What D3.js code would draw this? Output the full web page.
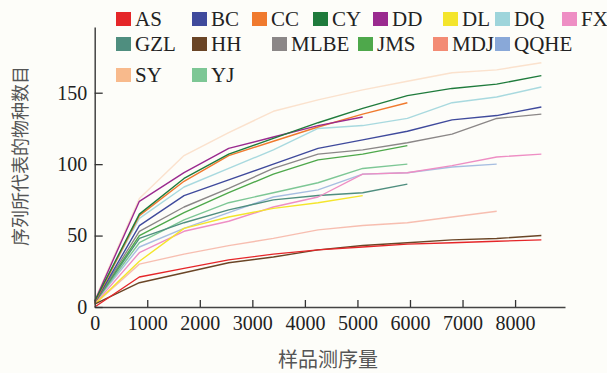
<!DOCTYPE html>
<html>
<head>
<meta charset="utf-8">
<script src="https://cdn.jsdelivr.net/npm/d3@7/dist/d3.min.js"></script>
<style>
  html, body { margin: 0; padding: 0; background: #fdfdf9; }
  svg { display: block; }
</style>
</head>
<body>
<svg id="chart" width="607" height="373"></svg>
<script>
// Sequencing depth at which species counts were sampled
const depths = [0, 850, 1700, 2550, 3400, 4250, 5100, 5950, 6800, 7650, 8500];

// Site names (legend order)
const sites = ["AS", "BC", "CC", "CY", "DD", "DL", "DQ", "FX",
               "GZL", "HH", "MLBE", "JMS", "MDJ", "QQHE", "SY", "YJ"];

// Species counts per site, one value per depth (curves stop at each sample's depth)
const AS   = [0, 21, 27, 33, 37, 40, 42, 44, 45, 46, 47];
const BC   = [3, 57, 78, 89, 100, 111, 117, 123, 131, 134, 140];
const CC   = [3, 64, 88, 106, 116, 126, 135, 143];
const CY   = [4, 65, 90, 107, 118, 129, 139, 148, 153, 156, 162];
const DD   = [4, 74, 94, 111, 119, 127, 133];
const DL   = [2, 32, 55, 63, 69, 73, 78];
const DQ   = [4, 62, 84, 97, 110, 125, 127, 132, 143, 147, 154];
const FX   = [2, 38, 53, 60, 70, 77, 93, 94, 99, 105, 107];
const GZL  = [3, 48, 59, 68, 75, 78, 80, 86];
const HH   = [2, 17, 24, 31, 35, 40, 43, 45, 47, 48, 50];
const MLBE = [3, 53, 70, 83, 97, 107, 110, 115, 121, 132, 135];
const JMS  = [3, 50, 66, 80, 93, 103, 107, 113];
const MDJ  = [2, 30, 37, 43, 48, 54, 57, 59, 63, 67];
const QQHE = [3, 42, 55, 66, 77, 82, 93, 94, 98, 100];
const SY   = [5, 76, 106, 122, 137, 145, 152, 158, 164, 166, 171];
const YJ   = [3, 45, 61, 73, 80, 87, 97, 100];

const xTicks = [0, 1000, 2000, 3000, 4000, 5000, 6000, 7000, 8000];
const yTicks = [0, 50, 100, 150];

const xTitle = "样品测序量";
const yTitle = "序列所代表的物种数目";

// Styling
const serif = "'Liberation Serif', 'Times New Roman', Times, serif";
const cjk = "'Noto Sans CJK SC', sans-serif";
const colors = {
  AS: "#e52629", BC: "#3f4a9c", CC: "#f07a2e", CY: "#1f7b3c", DD: "#9a2a8f",
  DL: "#f4e52c", DQ: "#9ed5db", FX: "#ee8ec4", GZL: "#4f8e7f", HH: "#6a4526",
  MLBE: "#8b8787", JMS: "#4ea84b", MDJ: "#f38b74", QQHE: "#89a8d8",
  SY: "#f8ba8c", YJ: "#7dc795"
};
const lineOpacity = { SY: 0.4, MDJ: 0.55, QQHE: 0.75, DQ: 0.9 };

const seriesValues = { AS, BC, CC, CY, DD, DL, DQ, FX, GZL, HH, MLBE, JMS, MDJ, QQHE, SY, YJ };

const svg = d3.select("#chart");

const x = d3.scaleLinear().domain([0, 8950]).range([94.7, 565]);
const y = d3.scaleLinear().domain([0, 196]).range([307, 27]);

// Curves (drawn so the strongest lines end up on top)
const drawOrder = ["SY", "MDJ", "QQHE", "YJ", "GZL", "JMS", "MLBE", "FX", "DL",
                   "HH", "AS", "DQ", "BC", "CC", "DD", "CY"];
const line = d3.line().x(d => x(d[0])).y(d => y(d[1]));

svg.append("g")
  .selectAll("path")
  .data(drawOrder)
  .join("path")
  .attr("d", s => line(seriesValues[s].map((v, i) => [depths[i], v])))
  .attr("fill", "none")
  .attr("stroke", s => colors[s])
  .attr("stroke-opacity", s => lineOpacity[s] || 1)
  .attr("stroke-width", 1.4)
  .attr("stroke-linejoin", "round");

// Axes
const xAxis = d3.axisBottom(x).tickValues(xTicks).tickSize(-7).tickSizeOuter(0).tickPadding(9)
  .tickFormat(d3.format("d"));
const yAxis = d3.axisLeft(y).tickValues(yTicks).tickSize(-8).tickSizeOuter(0).tickPadding(7.5)
  .tickFormat(d3.format("d"));

const gx = svg.append("g").attr("transform", `translate(0,${y(0)})`).call(xAxis);
const gy = svg.append("g").attr("transform", `translate(${x(0)},0)`).call(yAxis);
[gx, gy].forEach(g => {
  g.attr("font-family", serif).attr("font-size", 20);
  g.selectAll(".tick text").attr("fill", "#222");
  g.select(".domain").attr("stroke", "#444").attr("stroke-width", 1.5);
  g.selectAll(".tick line").attr("stroke", "#333").attr("stroke-width", 1.3);
});
gx.selectAll(".tick").filter(d => d === 0).select("line").remove();

// Axis titles
svg.append("text")
  .attr("x", 328).attr("y", 367)
  .attr("text-anchor", "middle")
  .attr("font-family", cjk)
  .attr("font-size", 20).attr("fill", "#555")
  .text(xTitle);

svg.append("text")
  .attr("transform", "translate(27,156) rotate(-90)")
  .attr("text-anchor", "middle")
  .attr("font-family", cjk)
  .attr("font-size", 18).attr("fill", "#555")
  .text(yTitle);

// Legend: three rows of swatch + label
const legendRows = [19, 44, 75];
const legendSlots = [
  [116, 0], [192, 0], [252, 0], [313, 0], [373, 0], [443, 0], [495, 0], [562, 0],
  [116, 1], [192, 1], [272, 1], [358, 1], [433, 1], [495, 1],
  [116, 2], [192, 2]
];
const legend = svg.append("g")
  .selectAll("g")
  .data(sites)
  .join("g")
  .attr("transform", (s, i) => `translate(${legendSlots[i][0]},${legendRows[legendSlots[i][1]]})`);
legend.append("rect")
  .attr("x", 0).attr("y", -7).attr("width", 15).attr("height", 14)
  .attr("fill", s => colors[s]);
legend.append("text")
  .attr("x", 19).attr("y", 7)
  .attr("font-family", serif)
  .attr("font-size", 21).attr("fill", "#222")
  .text(s => s);
</script>
</body>
</html>
